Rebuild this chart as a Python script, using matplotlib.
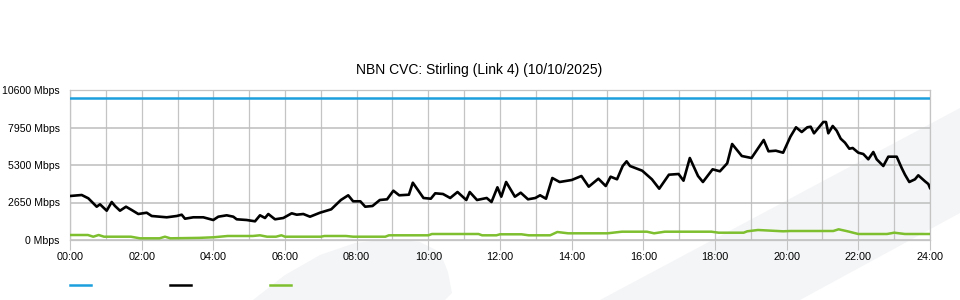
import numpy as np
import matplotlib.pyplot as plt
from matplotlib.lines import Line2D
from matplotlib.patches import Polygon

# --- data (hours since midnight, Mbps) ---
capacity_hours = [0.0, 24.0]
capacity_mbps = [10000, 10000]

down_hours = [
    0.000, 0.327, 0.511, 0.745, 0.837, 1.024, 1.164, 1.256, 1.395, 1.563,
    1.722, 1.906, 2.140, 2.280, 2.512, 2.699, 2.978, 3.117, 3.209, 3.441,
    3.720, 3.999, 4.139, 4.373, 4.557, 4.652, 4.931, 5.163, 5.302, 5.442,
    5.534, 5.721, 5.953, 6.187, 6.327, 6.511, 6.698, 6.977, 7.290, 7.560,
    7.764, 7.901, 8.102, 8.238, 8.442, 8.646, 8.849, 9.025, 9.187, 9.458,
    9.567, 9.865, 10.069, 10.192, 10.409, 10.610, 10.814, 11.060, 11.155, 11.358,
    11.629, 11.763, 11.928, 12.036, 12.171, 12.416, 12.578, 12.781, 12.985, 13.119,
    13.284, 13.460, 13.664, 14.001, 14.272, 14.476, 14.746, 14.950, 15.087, 15.266,
    15.424, 15.533, 15.628, 15.969, 16.239, 16.443, 16.714, 16.984, 17.121, 17.297,
    17.526, 17.663, 17.933, 18.137, 18.341, 18.478, 18.748, 19.019, 19.359, 19.493,
    19.697, 19.901, 20.104, 20.261, 20.420, 20.576, 20.671, 20.763, 20.930, 21.023,
    21.098, 21.162, 21.285, 21.396, 21.508, 21.628, 21.748, 21.843, 21.999, 22.139,
    22.278, 22.418, 22.512, 22.697, 22.836, 23.071, 23.210, 23.302, 23.422, 23.581,
    23.673, 23.860, 23.953, 24.000,
]
down_mbps = [
    3109, 3180, 2947, 2353, 2523, 2071, 2685, 2403, 2071, 2353,
    2120, 1837, 1929, 1696, 1647, 1604, 1696, 1788, 1505, 1604,
    1604, 1413, 1647, 1745, 1647, 1463, 1413, 1321, 1745, 1555,
    1837, 1463, 1555, 1887, 1788, 1837, 1647, 1929, 2169, 2827,
    3159, 2735, 2735, 2353, 2403, 2827, 2876, 3484, 3159, 3201,
    4049, 2968, 2918, 3300, 3251, 2968, 3392, 2827, 3392, 2827,
    2968, 2685, 3724, 3060, 4099, 3060, 3343, 2876, 2968, 3159,
    2918, 4381, 4099, 4240, 4523, 3767, 4332, 3816, 4473, 4290,
    5229, 5561, 5229, 4897, 4290, 3625, 4615, 4664, 4191, 5795,
    4523, 4099, 4996, 4855, 5420, 6784, 5936, 5795, 7067, 6268,
    6311, 6169, 7300, 7964, 7632, 7964, 8006, 7540, 8056, 8339,
    8339, 7540, 8056, 7724, 7159, 6876, 6452, 6501, 6169, 6077,
    5703, 6219, 5703, 5229, 5887, 5887, 5088, 4615, 4099, 4290,
    4572, 4148, 3957, 3675,
]

up_hours = [
    0.0, 0.5, 0.65, 0.8, 0.95, 1.7, 1.95, 2.5, 2.65, 2.8,
    3.6, 4.0, 4.4, 5.1, 5.3, 5.5, 5.75, 5.9, 6.0, 7.0,
    7.1, 7.7, 7.9, 8.8, 8.9, 10.0, 10.1, 11.4, 11.5, 11.9,
    12.0, 12.6, 12.8, 13.4, 13.6, 13.9, 15.0, 15.4, 16.1, 16.3,
    16.6, 17.9, 18.1, 18.8, 18.9, 19.2, 19.9, 20.1, 21.3, 21.45,
    21.7, 22.0, 22.8, 23.0, 23.3, 24.0,
]
up_mbps = [
    353, 353, 233, 353, 233, 233, 120, 120, 233, 120,
    150, 191, 283, 283, 332, 233, 233, 332, 233, 233,
    283, 283, 233, 233, 332, 332, 424, 424, 332, 332,
    403, 403, 332, 332, 565, 473, 473, 587, 587, 473,
    587, 587, 516, 516, 615, 707, 615, 636, 636, 756,
    615, 424, 424, 516, 424, 424,
]

y_ticks = [0, 2650, 5300, 7950, 10600]
x_ticks = list(range(0, 25, 2))

BLUE = "#1b9fdd"
BLACK = "#000000"
GREEN = "#7dbf2f"
GRID = "#c4c4c4"

plt.rcParams["font.family"] = ["Liberation Sans", "DejaVu Sans"]

W, H = 960, 300
fig = plt.figure(figsize=(W / 100, H / 100), dpi=100)
fig.patch.set_facecolor("white")


def px(points):
    """pixel coords (origin top-left) -> figure fraction"""
    return [(x / W, 1 - y / H) for x, y in points]


# faint background watermark, behind the axes
wm = "#f4f5f7"
fig.patches.append(Polygon(px([(253, 300), (285, 275), (320, 255), (355, 243),
                               (390, 239), (420, 242), (440, 252), (448, 272),
                               (452, 293), (445, 300)]),
                           closed=True, transform=fig.transFigure,
                           facecolor=wm, edgecolor="none", zorder=-5))
fig.patches.append(Polygon(px([(600, 300), (960, 108), (960, 213), (800, 300)]),
                           closed=True, transform=fig.transFigure,
                           facecolor=wm, edgecolor="none", zorder=-5))

ax = fig.add_axes([70 / W, 60 / H, 860 / W, 150 / H])
ax.set_facecolor("none")

ax.plot(capacity_hours, capacity_mbps, color=BLUE, linewidth=1.8, zorder=3)
ax.plot(up_hours, up_mbps, color=GREEN, linewidth=1.8, zorder=3)
ax.plot(down_hours, down_mbps, color=BLACK, linewidth=1.9, zorder=4)

ax.set_xlim(0, 24)
ax.set_ylim(0, 10600)

ax.set_xticks(x_ticks)
ax.set_xticklabels([f"{h:02d}:00" for h in x_ticks], fontsize=7.8)
ax.set_xticks(range(0, 25), minor=True)
ax.set_yticks(y_ticks)
ax.set_yticklabels([f"{v} Mbps" for v in y_ticks], fontsize=7.6)

ax.tick_params(axis="x", which="major", length=7.5, color=GRID, pad=1.5)
ax.tick_params(axis="x", which="minor", length=0)
ax.tick_params(axis="y", length=0, pad=7.5)

ax.grid(axis="x", which="both", color=GRID, linewidth=0.9)
ax.grid(axis="y", which="major", color="#bdbdbd", linewidth=1.1)
ax.set_axisbelow(True)
for s in ax.spines.values():
    s.set_color(GRID)
    s.set_linewidth(0.9)

fig.text(479 / W, 1 - 70 / H, "NBN CVC: Stirling (Link 4) (10/10/2025)",
         ha="center", va="center", fontsize=10)

# legend samples (no labels in the original)
for x0, c in [(70, BLUE), (170, BLACK), (270, GREEN)]:
    fig.add_artist(Line2D([x0 / W, (x0 + 21) / W], [1 - 285 / H] * 2,
                          transform=fig.transFigure, color=c, linewidth=1.8))

fig.savefig("out.png", dpi=100)
